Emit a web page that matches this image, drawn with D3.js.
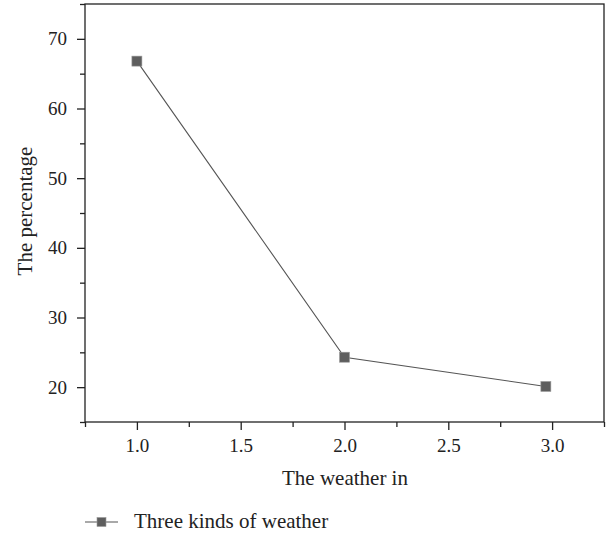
<!DOCTYPE html>
<html>
<head>
<meta charset="utf-8">
<script src="https://cdn.jsdelivr.net/npm/d3@7"></script>
<style>
  html, body { margin: 0; padding: 0; background: #fff; }
  svg { display: block; }
  text { font-family: "Liberation Serif", "DejaVu Serif", serif; fill: #222; }
</style>
</head>
<body>
<svg id="chart" width="606" height="535"></svg>
<script>
// Share of each weather type
const weatherX = [1.0, 2.0, 2.97];
const percentages = [66.8, 24.3, 20.1];
const xTicks = [1.0, 1.5, 2.0, 2.5, 3.0];
const yTicks = [20, 30, 40, 50, 60, 70];
const seriesName = "Three kinds of weather";
const xTitle = "The weather in";
const yTitle = "The percentage";

const svg = d3.select("#chart");
const plot = { left: 85, right: 604, top: 4, bottom: 422 };

const x = d3.scaleLinear().domain([0.75, 3.25]).range([plot.left, plot.right]);
const y = d3.scaleLinear().domain([15, 75]).range([plot.bottom, plot.top]);

const axisColor = "#222";
const tickFont = 19, titleFont = 21;

// Frame
svg.append("rect")
  .attr("x", plot.left).attr("y", plot.top)
  .attr("width", plot.right - plot.left).attr("height", plot.bottom - plot.top)
  .attr("fill", "none").attr("stroke", axisColor).attr("stroke-width", 1.3);

// Minor ticks
const xMinor = d3.range(0.75, 3.26, 0.5);
const yMinor = d3.range(15, 76, 10);

svg.append("g").attr("transform", `translate(0,${plot.bottom})`)
  .call(d3.axisBottom(x).tickValues(xMinor).tickSize(5).tickFormat(""))
  .call(g => g.select(".domain").remove());
svg.append("g").attr("transform", `translate(0,${plot.bottom})`)
  .call(d3.axisBottom(x).tickValues(xTicks).tickSize(8).tickPadding(9).tickFormat(d3.format(".1f")))
  .call(g => g.select(".domain").remove());

svg.append("g").attr("transform", `translate(${plot.left},0)`)
  .call(d3.axisLeft(y).tickValues(yMinor).tickSize(5).tickFormat(""))
  .call(g => g.select(".domain").remove());
svg.append("g").attr("transform", `translate(${plot.left},0)`)
  .call(d3.axisLeft(y).tickValues(yTicks).tickSize(8).tickPadding(10))
  .call(g => g.select(".domain").remove());

svg.selectAll(".tick line").attr("stroke", axisColor).attr("stroke-width", 1.3);
svg.selectAll(".tick text").attr("font-size", tickFont).attr("fill", axisColor)
  .style("font-family", '"Liberation Serif", "DejaVu Serif", serif');

// Axis titles
svg.append("text")
  .attr("x", 345).attr("y", 485)
  .attr("text-anchor", "middle").attr("font-size", titleFont)
  .text(xTitle);
svg.append("text")
  .attr("transform", `translate(32,211) rotate(-90)`)
  .attr("text-anchor", "middle").attr("font-size", titleFont)
  .text(yTitle);

// Series line and markers
const pts = weatherX.map((v, i) => [v, percentages[i]]);
svg.append("path")
  .datum(pts)
  .attr("fill", "none").attr("stroke", "#555").attr("stroke-width", 1.1)
  .attr("d", d3.line().x(d => x(d[0])).y(d => y(d[1])));

const ms = 10;
svg.selectAll("rect.marker").data(pts).enter().append("rect")
  .attr("class", "marker")
  .attr("x", d => x(d[0]) - ms / 2).attr("y", d => y(d[1]) - ms / 2)
  .attr("width", ms).attr("height", ms)
  .attr("fill", "#5e5e5e").attr("stroke", "#9a9a9a").attr("stroke-width", 0.6);

// Legend
const ly = 522;
svg.append("line").attr("x1", 85).attr("x2", 118).attr("y1", ly).attr("y2", ly)
  .attr("stroke", "#555").attr("stroke-width", 1.1);
svg.append("rect").attr("x", 101.5 - 4.5).attr("y", ly - 4.5).attr("width", 9).attr("height", 9)
  .attr("fill", "#5e5e5e").attr("stroke", "#9a9a9a").attr("stroke-width", 0.6);
svg.append("text").attr("x", 134).attr("y", 528)
  .attr("font-size", titleFont).text(seriesName);
</script>
</body>
</html>
